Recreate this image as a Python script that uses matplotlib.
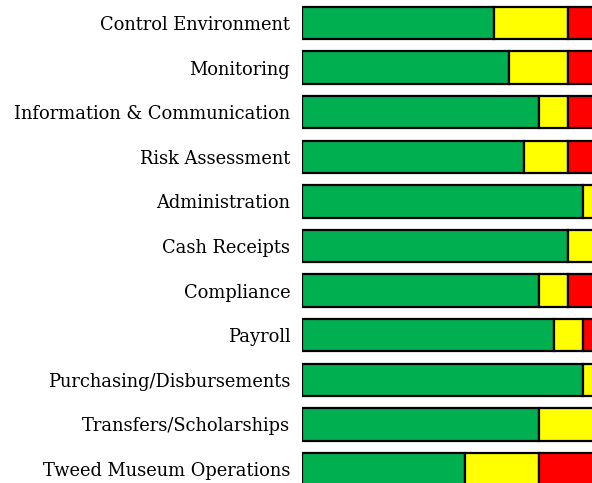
import matplotlib
matplotlib.use("Agg")
import matplotlib.pyplot as plt
import numpy as np

categories = ["Control Environment", "Monitoring", "Information & Communication",
              "Risk Assessment", "Administration", "Cash Receipts", "Compliance",
              "Payroll", "Purchasing/Disbursements", "Transfers/Scholarships",
              "Tweed Museum Operations"]
green = [13, 14, 16, 15, 19, 18, 16, 17, 19, 16, 11]
yellow = [5, 4, 2, 3, 1, 2, 2, 2, 1, 4, 5]
red = [2, 2, 2, 2, 0, 0, 2, 1, 0, 0, 4]

W, H = 592, 483
fig = plt.figure(figsize=(W / 100, H / 100), dpi=100)
step = 44.6
top_px = 23 - step / 2
bot_px = 469 + step / 2
left_px = 302
ax = fig.add_axes([left_px / W, (H - bot_px) / H, 1 - left_px / W, (bot_px - top_px) / H])

y = np.arange(len(categories))
g = np.array(green); yl = np.array(yellow); r = np.array(red)
kw = dict(height=0.73, edgecolor="black", linewidth=1.6)
ax.barh(y, g, color="#00B050", **kw)
ax.barh(y, yl, left=g, color="#FFFF00", **kw)
ax.barh(y, r, left=g + yl, color="#FF0000", **kw)

ax.set_xlim(-0.02, (W - left_px) / 14.8)
ax.set_ylim(len(categories) - 0.5, -0.5)
ax.set_yticks(y)
ax.set_yticklabels(categories, family="DejaVu Serif", fontsize=12.9)
ax.tick_params(axis="y", length=0, pad=8.5)
ax.set_xticks([])
for s in ax.spines.values():
    s.set_visible(False)

fig.savefig("out.png", dpi=100)
